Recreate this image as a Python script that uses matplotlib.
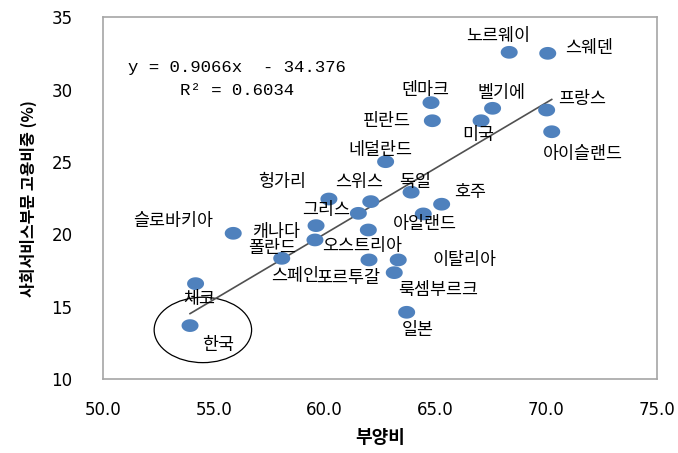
import numpy as np
import matplotlib
matplotlib.use("Agg")
import matplotlib.pyplot as plt
from matplotlib.patches import Ellipse
from matplotlib.path import Path

plt.rcParams["font.family"] = ["Noto Sans CJK KR", "DejaVu Sans"]

# 부양비 vs 사회서비스부문 고용비중 (%)
countries = ["노르웨이", "스웨덴", "덴마크", "벨기에", "핀란드", "미국", "프랑스",
             "아이슬랜드", "네덜란드", "헝가리", "스위스", "독일", "호주", "그리스",
             "아일랜드", "캐나다", "슬로바키아", "오스트리아", "폴란드", "스페인",
             "포르투갈", "이탈리아", "룩셈부르크", "일본", "체코", "한국"]
dependency = [68.34, 70.08, 64.81, 67.59, 64.87, 67.07, 70.03,
              70.26, 62.76, 60.20, 62.09, 63.91, 65.29, 61.53,
              64.46, 59.62, 55.88, 61.98, 59.57, 58.07,
              62.01, 63.33, 63.15, 63.71, 54.18, 53.93]
service_share = [32.58, 32.51, 29.10, 28.71, 27.85, 27.85, 28.59,
                 27.09, 25.02, 22.44, 22.26, 22.91, 22.08, 21.45,
                 21.41, 20.60, 20.07, 20.30, 19.61, 18.34,
                 18.23, 18.23, 17.35, 14.61, 16.59, 13.69]
slope, intercept, r2 = 0.9066, -34.376, 0.6034

# label offsets in pixels (dx right, dy down)
label_offsets = {
    "노르웨이": (-11, -16), "스웨덴": (41, -5), "덴마크": (-6, -13),
    "벨기에": (9, -15), "핀란드": (-45, 0), "미국": (-3, 14),
    "프랑스": (35, -11), "아이슬랜드": (31, 22), "네덜란드": (-5, -12),
    "헝가리": (-47, -17), "스위스": (-12, -20), "독일": (4, -10),
    "호주": (28, -12), "그리스": (-32, -3), "아일랜드": (2, 10),
    "캐나다": (-40, 6), "슬로바키아": (-60, -12), "오스트리아": (-6, 16),
    "폴란드": (-43, 8), "스페인": (13, 18), "포르투갈": (-21, 18),
    "이탈리아": (66, 0), "룩셈부르크": (44, 17), "일본": (11, 18),
    "체코": (4, 15), "한국": (28, 19),
}

# slightly flattened dot, like the spreadsheet marker
t = np.linspace(0, 2 * np.pi, 40)
dot = Path(np.column_stack([np.cos(t), 0.75 * np.sin(t)]), closed=True)

fig = plt.figure(figsize=(6.78, 4.53), dpi=100)
ax = fig.add_axes([0.1519, 0.1634, 0.8167, 0.7984])

x = np.array(dependency)
xs = np.array([x.min(), x.max()])
ax.plot(xs, slope * xs + intercept, color="#505050", linewidth=1.2, zorder=2)
ax.scatter(dependency, service_share, marker=dot, s=150, color="#4F81BD",
           edgecolors="none", zorder=3)

for name, px, py in zip(countries, dependency, service_share):
    dx, dy = label_offsets[name]
    ax.annotate(name, (px, py), xytext=(dx, -dy), textcoords="offset pixels",
                ha="center", va="center", fontsize=12.5, color="black", zorder=4)

ax.text(0.045, 0.86, f"y = {slope}x  - {abs(intercept)}", transform=ax.transAxes,
        family="Liberation Mono", fontsize=12.5, ha="left", va="center")
ax.text(0.243, 0.797, f"R² = {r2}", transform=ax.transAxes,
        family="Liberation Mono", fontsize=12.5, ha="center", va="center")

ax.add_patch(Ellipse((54.51, 13.39), 4.4, 4.52, fill=False, edgecolor="black",
                     linewidth=0.9, zorder=1))

ax.set_xlim(50, 75)
ax.set_ylim(10, 35)
ax.set_xticks(np.arange(50, 76, 5))
ax.set_xticklabels([f"{v:.1f}" for v in np.arange(50, 76, 5)])
ax.set_yticks(np.arange(10, 36, 5))
ax.tick_params(length=0, labelsize=12, pad=16)
ax.tick_params(axis="y", pad=22)
for lab in ax.get_xticklabels() + ax.get_yticklabels():
    lab.set_family("DejaVu Sans")
for sp in ax.spines.values():
    sp.set_color("#a6a6a6")
    sp.set_linewidth(1.2)

ax.set_xlabel("부양비", fontsize=13, fontweight="bold", labelpad=6)
ax.set_ylabel("사회서비스부문 고용비중 (%)", fontsize=11.5, fontweight="bold", labelpad=10)

fig.savefig("out.png", dpi=100)
